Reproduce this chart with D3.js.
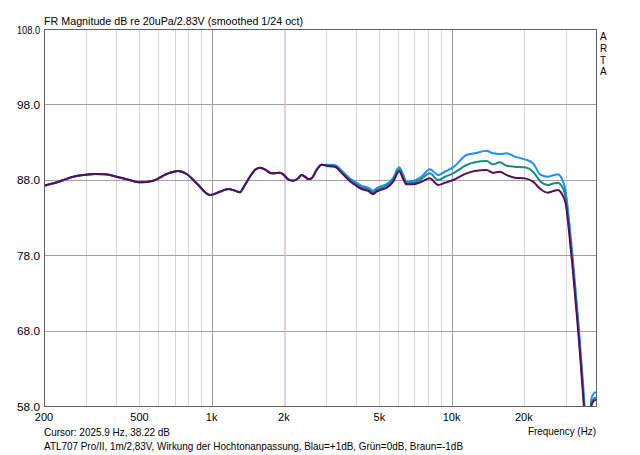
<!DOCTYPE html>
<html>
<head>
<meta charset="utf-8">
<script src="https://cdn.jsdelivr.net/npm/d3@7"></script>
<style>
  body { margin: 0; background: #fff; }
  text { font-family: "Liberation Sans", Arial, sans-serif; font-size: 11px; fill: #000; }
</style>
</head>
<body>
<svg id="chart" width="640" height="455"></svg>
<script>
// Messpunkte (Hz)
const freqHz = [200, 219, 240, 265, 295, 326, 360, 402, 450, 502, 571, 649, 725, 786, 865, 983, 1082, 1172, 1250, 1311,
  1375, 1443, 1514, 1589, 1667, 1749, 1805, 1925, 1987, 2084, 2187, 2294, 2370, 2447, 2526, 2609, 2737, 2872, 3013, 3210,
  3316, 3424, 3592, 3768, 3953, 4216, 4492, 4712, 4868, 5024, 5358, 5708, 6045, 6284, 6490, 6916, 7450, 8117, 8790, 9400,
  10150, 11544, 12500, 13985, 14894, 15886, 16944, 18346, 20194, 21867, 23520, 25180, 26500, 27720, 28750, 29925, 30890, 31790, 32630, 33360,
  34000, 34660, 35330, 35800, 36500, 37200, 37800, 38300, 39000, 39600, 40000];

// Blau = +1dB
const blauDb = [87.2, 87.54, 87.95, 88.41, 88.65, 88.77, 88.72, 88.41, 88.0, 87.67, 87.88, 88.77, 89.17, 88.77, 87.54, 85.98, 86.42, 86.78, 86.56, 86.35,
  87.31, 88.41, 89.3, 89.61, 89.39, 88.94, 88.86, 88.94, 88.72, 88.06, 87.88, 88.2, 88.64, 88.41, 88.1, 88.2, 89.3, 90.0, 90.0, 89.97,
  89.86, 89.45, 88.8, 88.18, 87.74, 87.2, 86.95, 86.56, 86.88, 87.1, 87.42, 88.26, 89.65, 88.7, 87.75, 87.85, 88.35, 89.39, 88.64, 89.1,
  89.65, 91.29, 91.51, 91.86, 91.51, 91.42, 91.51, 91.07, 90.71, 90.18, 88.64, 88.41, 88.6, 88.73, 88.2, 86.4, 82.6, 78.6, 74.6, 71.1,
  68.0, 64.4, 60.9, 58.3, 54, 52, 56.5, 59.0, 59.6, 59.8, 59.8];

// Grün = 0dB
const gruenDb = [87.2, 87.54, 87.95, 88.41, 88.65, 88.77, 88.72, 88.41, 88.0, 87.67, 87.88, 88.77, 89.17, 88.77, 87.54, 85.98, 86.42, 86.78, 86.56, 86.35,
  87.31, 88.41, 89.3, 89.61, 89.39, 88.94, 88.86, 88.94, 88.72, 88.06, 87.88, 88.2, 88.64, 88.41, 88.1, 88.2, 89.3, 90.0, 89.92, 89.87,
  89.74, 89.3, 88.64, 88.0, 87.54, 87.0, 86.74, 86.34, 86.65, 86.87, 87.18, 88.0, 89.39, 88.41, 87.54, 87.62, 88.06, 88.86, 87.97, 88.4,
  88.86, 89.96, 90.32, 90.49, 90.05, 90.32, 89.87, 89.74, 89.65, 89.08, 87.75, 87.31, 87.5, 87.62, 87.2, 85.5, 81.8, 77.8, 73.8, 70.3,
  67.2, 63.7, 60.1, 57.5, 53, 51, 55.5, 58.4, 58.9, 59.1, 59.1];

// Braun = -1dB
const braunDb = [87.2, 87.54, 87.95, 88.41, 88.65, 88.77, 88.72, 88.41, 88.0, 87.67, 87.88, 88.77, 89.17, 88.77, 87.54, 85.98, 86.42, 86.78, 86.56, 86.35,
  87.31, 88.41, 89.3, 89.61, 89.39, 88.94, 88.86, 88.94, 88.72, 88.06, 87.88, 88.2, 88.64, 88.41, 88.1, 88.2, 89.3, 90.0, 89.85, 89.77,
  89.62, 89.15, 88.48, 87.82, 87.34, 86.78, 86.52, 86.1, 86.42, 86.63, 86.93, 87.74, 89.12, 88.12, 87.4, 87.4, 87.7, 88.19, 87.31, 87.6,
  87.97, 88.86, 89.17, 89.3, 88.94, 89.08, 88.64, 88.28, 88.19, 87.75, 86.74, 86.29, 86.5, 86.65, 86.2, 84.8, 81.1, 77.1, 73.1, 69.6,
  66.5, 63.0, 59.4, 56.8, 52, 50, 55, 58.1, 58.6, 58.8, 58.8];

const yTicks = [58, 68, 78, 88, 98, 108];
const xTicks = [200, 500, 1000, 2000, 5000, 10000, 20000];
const xTickLabels = ["200", "500", "1k", "2k", "5k", "10k", "20k"];
const minorFreqs = [300, 400, 500, 600, 700, 800, 900, 2000, 3000, 4000, 5000, 6000, 7000, 8000, 9000, 20000, 30000];
const majorFreqs = [1000, 10000];
const cursorHz = 2025.9;

const pLeft = 44, pRight = 596, pTop = 29, pBottom = 406;

const svg = d3.select("#chart");

const x = d3.scaleLog().domain([200, 40000]).range([pLeft, pRight]);
const y = d3.scaleLinear().domain([58, 108]).range([pBottom, pTop]);

// Gitter
svg.append("g").selectAll("line").data(minorFreqs).enter().append("line")
  .attr("x1", d => Math.round(x(d)) + 0.5).attr("x2", d => Math.round(x(d)) + 0.5)
  .attr("y1", pTop).attr("y2", pBottom)
  .attr("stroke", "#d6d6d6").attr("stroke-width", 1);

svg.append("g").selectAll("line").data(majorFreqs).enter().append("line")
  .attr("x1", d => Math.round(x(d)) + 0.5).attr("x2", d => Math.round(x(d)) + 0.5)
  .attr("y1", pTop).attr("y2", pBottom)
  .attr("stroke", "#a0a0a0").attr("stroke-width", 1);

svg.append("g").selectAll("line").data(yTicks.slice(1, -1)).enter().append("line")
  .attr("x1", pLeft).attr("x2", pRight)
  .attr("y1", d => Math.round(y(d)) + 0.5).attr("y2", d => Math.round(y(d)) + 0.5)
  .attr("stroke", "#a0a0a0").attr("stroke-width", 1);

// Cursor
svg.append("line")
  .attr("x1", Math.round(x(cursorHz)) + 0.5).attr("x2", Math.round(x(cursorHz)) + 0.5)
  .attr("y1", pTop).attr("y2", pBottom)
  .attr("stroke", "#e6e27a").attr("stroke-width", 1);

// Kurven
svg.append("clipPath").attr("id", "plotclip")
  .append("rect").attr("x", pLeft).attr("y", pTop).attr("width", pRight - pLeft).attr("height", pBottom - pTop);

const line = d3.line()
  .x(d => x(d[0]))
  .y(d => y(d[1]))
  .curve(d3.curveMonotoneX);

const series = [
  { values: blauDb, color: "#1e8ef8" },
  { values: gruenDb, color: "#188a86" },
  { values: braunDb, color: "#5a0c5c" }
];

svg.append("g").attr("clip-path", "url(#plotclip)")
  .selectAll("path").data(series).enter().append("path")
  .attr("d", s => line(freqHz.map((f, i) => [f, s.values[i]])))
  .attr("fill", "none")
  .attr("stroke", s => s.color)
  .attr("stroke-width", 2)
  .attr("stroke-linejoin", "round");

// Rahmen
svg.append("rect")
  .attr("x", pLeft + 0.5).attr("y", pTop + 0.5)
  .attr("width", pRight - pLeft).attr("height", pBottom - pTop)
  .attr("fill", "none").attr("stroke", "#606060").attr("stroke-width", 1);

// Achsenbeschriftung
svg.append("g").selectAll("text").data(yTicks).enter().append("text")
  .attr("x", pLeft - 4).attr("y", d => y(d) + 4.5)
  .attr("text-anchor", "end")
  .attr("textLength", 23).attr("lengthAdjust", "spacingAndGlyphs")
  .text(d => d.toFixed(1));

svg.append("g").selectAll("text").data(xTicks).enter().append("text")
  .attr("x", d => x(d)).attr("y", pBottom + 15)
  .attr("text-anchor", "middle")
  .text((d, i) => xTickLabels[i]);

svg.append("text").attr("x", pLeft).attr("y", 25)
  .attr("textLength", 259).attr("lengthAdjust", "spacingAndGlyphs")
  .text("FR Magnitude dB re 20uPa/2.83V (smoothed 1/24 oct)");

svg.append("text").attr("x", 528).attr("y", 435)
  .attr("textLength", 68).attr("lengthAdjust", "spacingAndGlyphs")
  .text("Frequency (Hz)");

svg.append("text").attr("x", pLeft).attr("y", 436)
  .attr("textLength", 126).attr("lengthAdjust", "spacingAndGlyphs")
  .text("Cursor: 2025.9 Hz, 38.22 dB");

svg.append("text").attr("x", pLeft).attr("y", 450)
  .attr("textLength", 419).attr("lengthAdjust", "spacingAndGlyphs")
  .text("ATL707 Pro/II, 1m/2,83V, Wirkung der Hochtonanpassung, Blau=+1dB, Grün=0dB, Braun=-1dB");

svg.append("g").selectAll("text").data(["A", "R", "T", "A"]).enter().append("text")
  .attr("x", 600).attr("y", (d, i) => 40 + i * 11.8)
  .style("font-size", "10px")
  .text(d => d);
</script>
</body>
</html>
